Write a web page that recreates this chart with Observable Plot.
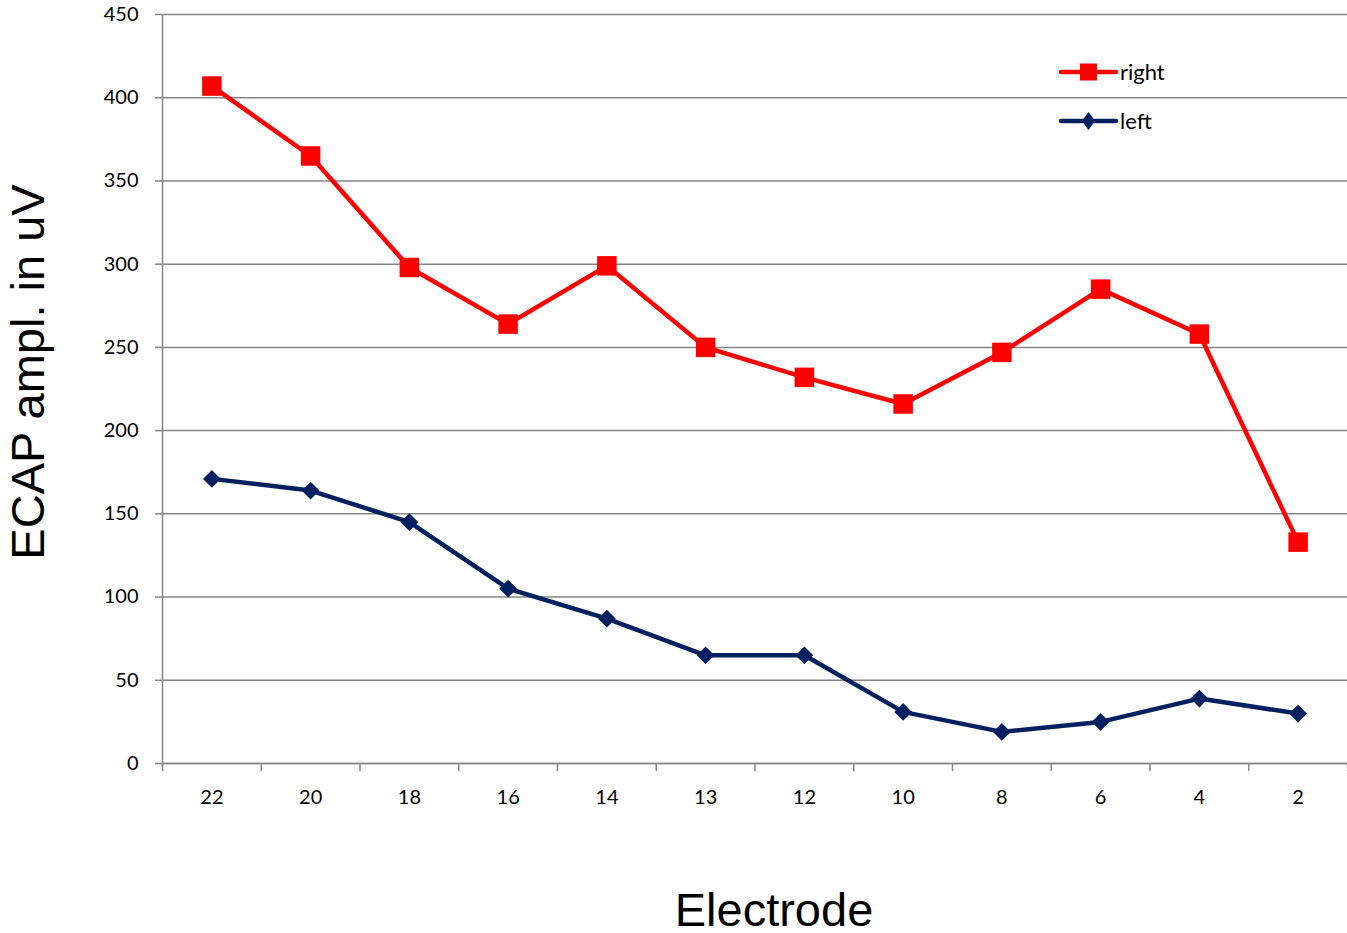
<!DOCTYPE html>
<html>
<head>
<meta charset="utf-8">
<script src="https://cdn.jsdelivr.net/npm/d3@7"></script>
<script src="https://cdn.jsdelivr.net/npm/@observablehq/plot@0.6"></script>
<style>
  html, body { margin: 0; padding: 0; background: #fff; }
  #wrap { position: relative; width: 1347px; height: 933px; }
  #legend { position: absolute; left: 0; top: 0; }
</style>
</head>
<body>
<div id="wrap"></div>
<script>
const electrodes = ["22","20","18","16","14","13","12","10","8","6","4","2"];
const rightValues = [407,365,298,264,299,250,232,216,247,285,258,133];
const leftValues = [171,164,145,105,87,65,65,31,19,25,39,30];
const yTicks = [0,50,100,150,200,250,300,350,400,450];
const seriesNames = ["right","left"];
const seriesColors = ["#FF0000","#002060"];
const xTitle = "Electrode";
const yTitle = "ECAP ampl. in uV";

const idx = d3.range(electrodes.length);
const boundaries = d3.range(electrodes.length + 1).map(i => i - 0.5);
const rightData = idx.map(i => ({i, v: rightValues[i]}));
const leftData = idx.map(i => ({i, v: leftValues[i]}));
const gridColor = "#868686";

const chart = Plot.plot({
  width: 1347,
  height: 933,
  marginLeft: 162,
  marginRight: 0,
  marginTop: 14,
  marginBottom: 170,
  x: {domain: [-0.5, electrodes.length - 0.5]},
  y: {domain: [0, 450]},
  style: {fontFamily: "Lato, 'Open Sans', sans-serif", fontSize: "20px", color: "#000", background: "#fff", overflow: "visible"},
  marks: [
    Plot.gridY(yTicks, {stroke: gridColor, strokeOpacity: 1, strokeWidth: 1.5}),
    Plot.axisY(yTicks, {tickSize: 7, tickPadding: 17, stroke: gridColor, strokeWidth: 1.5, fontSize: 20, label: null}),
    Plot.ruleX([-0.5], {stroke: gridColor, strokeWidth: 1.5}),
    Plot.ruleY([0], {stroke: gridColor, strokeWidth: 1.5}),
    Plot.axisX(boundaries, {tickSize: 8, tickFormat: () => "", stroke: gridColor, strokeWidth: 1.5, label: null}),
    Plot.axisX(idx, {tickSize: 0, tickPadding: 26, tickFormat: i => electrodes[i], fontSize: 20, label: null}),
    Plot.line(rightData, {x: "i", y: "v", stroke: seriesColors[0], strokeWidth: 4.5}),
    Plot.dot(rightData, {x: "i", y: "v", symbol: "square", r: 11, fill: seriesColors[0], stroke: "none"}),
    Plot.line(leftData, {x: "i", y: "v", stroke: seriesColors[1], strokeWidth: 4.5}),
    Plot.dot(leftData, {x: "i", y: "v", symbol: "diamond2", r: 8, fill: seriesColors[1], stroke: "none"}),
    Plot.text([xTitle], {frameAnchor: "bottom", textAnchor: "middle", dx: 19, dy: 147, fontSize: 47, fontFamily: "'Liberation Sans', Arial, sans-serif", lineAnchor: "middle", fill: "#000"}),
    Plot.text([yTitle], {frameAnchor: "left", textAnchor: "middle", rotate: -90, dx: -134, dy: -17, fontSize: 47, fontFamily: "'Liberation Sans', Arial, sans-serif", lineAnchor: "middle", fill: "#000"})
  ]
});
const wrap = document.getElementById("wrap");
wrap.appendChild(chart);

// Legend overlay (top-right inside plot area)
const leg = d3.select(wrap).append("svg").attr("id", "legend")
  .attr("width", 1347).attr("height", 933).style("pointer-events", "none");
const legX = 1061, legY = 72, legGap = 49;
seriesNames.forEach((name, k) => {
  const g = leg.append("g").attr("transform", `translate(${legX},${legY + k * legGap})`);
  g.append("line").attr("x1", 0).attr("x2", 55).attr("y1", 0).attr("y2", 0)
    .attr("stroke", seriesColors[k]).attr("stroke-width", 4.5).attr("stroke-linecap", "round");
  if (k === 0) {
    g.append("rect").attr("x", 27.5 - 8.5).attr("y", -8.5).attr("width", 17).attr("height", 17).attr("fill", seriesColors[k]);
  } else {
    g.append("path").attr("d", "M27.5,-9L34,0L27.5,9L21,0Z").attr("fill", seriesColors[k]);
  }
  g.append("text").attr("x", 59).attr("y", 0).attr("dy", "0.35em")
    .attr("font-family", "Lato, 'Open Sans', sans-serif").attr("font-size", 22)
    .attr("fill", "#000").text(name);
});
</script>
</body>
</html>
